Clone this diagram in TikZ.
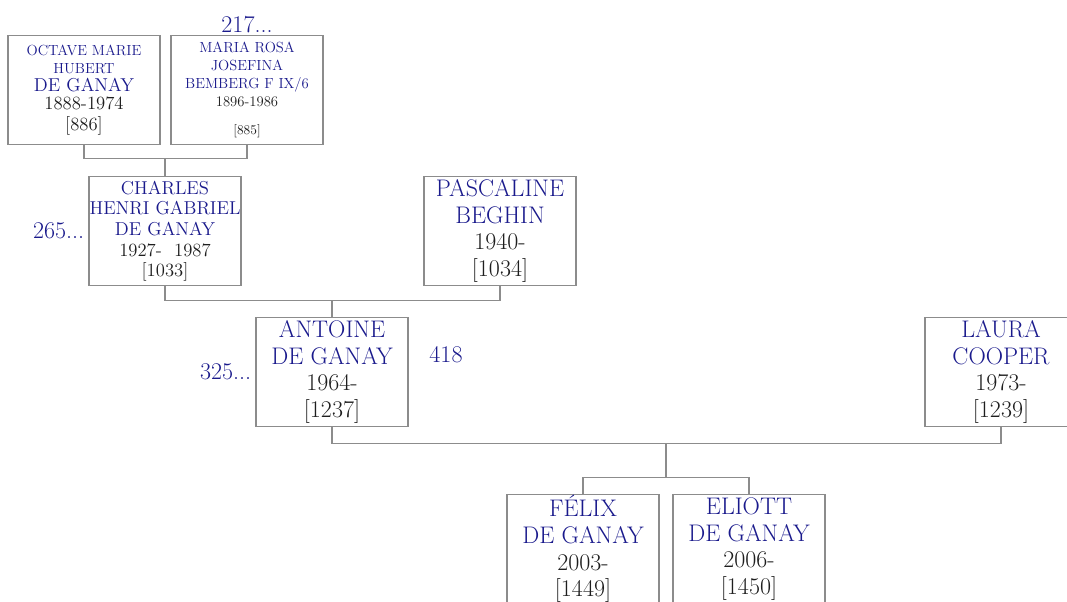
\documentclass[tikz,border=0pt]{standalone}
\usetikzlibrary{positioning, calc}
\definecolor{navy}{HTML}{1A1A8C}
\definecolor{boxgray}{HTML}{8C8C8C}
\definecolor{inkblk}{HTML}{1E1E1E}

% font sizes used in the boxes
\newcommand{\fbig}{\fontsize{18}{20}\selectfont}
\newcommand{\fmid}{\fontsize{14}{15.5}\selectfont}
\newcommand{\fsma}{\fontsize{11}{13.5}\selectfont}
\newcommand{\ftin}{\fontsize{10}{13}\selectfont}

\begin{document}
\begin{tikzpicture}[x=0.75pt, y=-0.75pt,
  person/.style={draw=boxgray, line width=0.8pt, minimum width=114pt,
    minimum height=82pt, inner sep=0pt, align=center, text=inkblk},
  link/.style={draw=boxgray, line width=0.8pt},
  refnum/.style={text=navy, font=\fbig, inner sep=1pt}]

\useasboundingbox (0,0) rectangle (1067,601);
\clip (0,0) rectangle (1067,601);

% ========== Grandparents ==========
\node[person, font=\fsma] (octave) at (84,90)
  {\textcolor{navy}{OCTAVE MARIE}\\ \textcolor{navy}{HUBERT}\\
   {\fmid\textcolor{navy}{DE GANAY}}\\ {\fmid 1888-1974}\\[2pt] {\fmid[886]}};
\node[person, font=\fsma] (maria) at (247,90)
  {\textcolor{navy}{MARIA ROSA}\\ \textcolor{navy}{JOSEFINA}\\
   \textcolor{navy}{BEMBERG F IX/6}\\ 1896-1986\\[8pt] {\ftin[885]}};
\node[refnum, above=0pt of maria] (n217) {217...};

% ========== Parents ==========
\node[person, font=\fmid] (charles) at (165,231)
  {\textcolor{navy}{CHARLES}\\ \textcolor{navy}{HENRI GABRIEL}\\
   \textcolor{navy}{DE GANAY}\\ 1927-\ \ 1987\\ {[1033]}};
\node[refnum, left=2pt of charles] (n265) {265...};
\node[person, font=\fbig] (pascaline) at (500,231)
  {\textcolor{navy}{PASCALINE}\\ \textcolor{navy}{BEGHIN}\\ 1940-\\ {[1034]}};

% ========== Couple ==========
\node[person, font=\fbig] (antoine) at (332,372)
  {\textcolor{navy}{ANTOINE}\\ \textcolor{navy}{DE GANAY}\\ 1964-\\ {[1237]}};
\node[refnum, left=2pt of antoine] (n325) {325...};
\node[refnum] (n418) at (446,355) {418};
\node[person, font=\fbig] (laura) at (1001,372)
  {\textcolor{navy}{LAURA}\\ \textcolor{navy}{COOPER}\\ 1973-\\ {[1239]}};

% ========== Children ==========
\node[person, font=\fbig] (felix) at (583,549)
  {\textcolor{navy}{FÉLIX}\\ \textcolor{navy}{DE GANAY}\\ 2003-\\ {[1449]}};
\node[person, font=\fbig] (eliott) at (749,549)
  {\textcolor{navy}{ELIOTT}\\ \textcolor{navy}{DE GANAY}\\ 2006-\\ {[1450]}};

% Family lines
\coordinate (j1) at ($(charles.north)+(0,-17)$);
\draw[link] (octave.south) |- (j1) -| (maria.south);
\draw[link] (j1) -- (charles.north);

\coordinate (j2) at ($(antoine.north)+(0,-16)$);
\draw[link] (charles.south) |- (j2) -| (pascaline.south);
\draw[link] (j2) -- (antoine.north);

\coordinate (j4) at ($(felix.north)!0.5!(eliott.north)+(0,-16)$);
\coordinate (j3) at ($(antoine.south)+(0,16)$);
\draw[link] (antoine.south) |- (j3) -| (laura.south);
\draw[link] (j3 -| j4) -- (j4);
\draw[link] (felix.north) |- (j4) -| (eliott.north);

\end{tikzpicture}
\end{document}
